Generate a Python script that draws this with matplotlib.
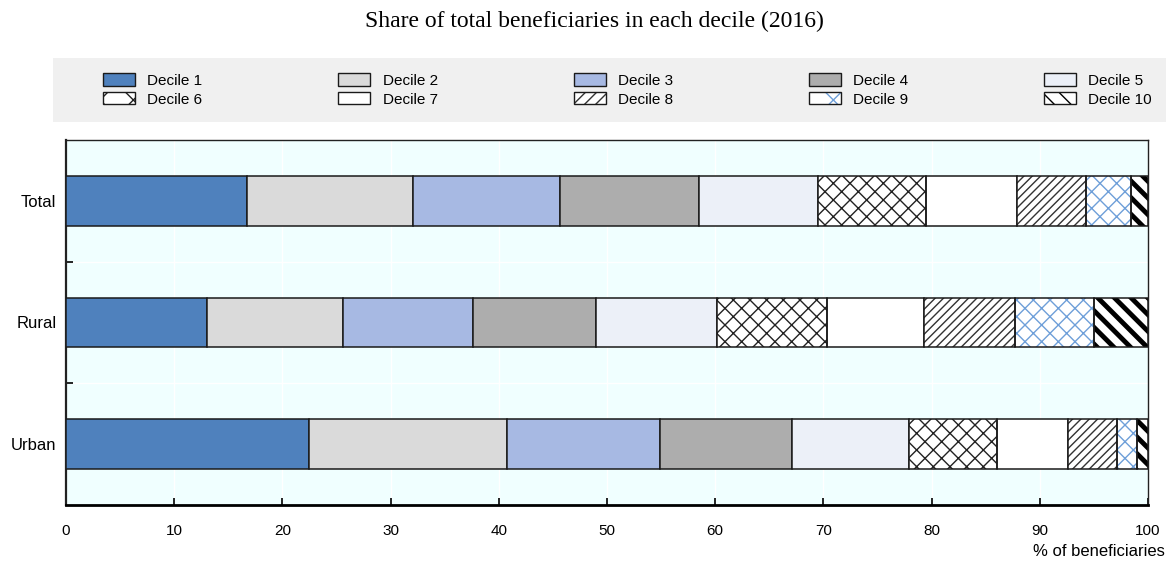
import matplotlib
matplotlib.use("Agg")
import matplotlib.pyplot as plt
from matplotlib.patches import Patch, Rectangle
from matplotlib.legend_handler import HandlerTuple
import numpy as np

categories = ["Total", "Rural", "Urban"]
decile_labels = ["Decile 1", "Decile 2", "Decile 3", "Decile 4", "Decile 5",
                 "Decile 6", "Decile 7", "Decile 8", "Decile 9", "Decile 10"]
total = [16.7, 15.4, 13.6, 12.8, 11.0, 10.0, 8.4, 6.4, 4.1, 1.6]
rural = [13.0, 12.6, 12.0, 11.4, 11.2, 10.1, 9.0, 8.4, 7.3, 5.0]
urban = [22.5, 18.3, 14.1, 12.2, 10.8, 8.1, 6.6, 4.5, 1.9, 1.0]
xticks = [0, 10, 20, 30, 40, 50, 60, 70, 80, 90, 100]

title = "Share of total beneficiaries in each decile (2016)"
xlabel = "% of beneficiaries"

# style per decile: (facecolor, hatch, hatchcolor, hatch linewidth, legend hatch)
styles = [
    ("#4F81BD", None, None, 1.0, None),
    ("#DADADA", None, None, 1.0, None),
    ("#A7B9E3", None, None, 1.0, None),
    ("#ADADAD", None, None, 1.0, None),
    ("#ECF0F8", None, None, 1.0, None),
    ("white", "xx", "#222222", 1.0, "x"),
    ("white", None, None, 1.0, None),
    ("white", "////", "#333333", 1.0, "///"),
    ("white", "xx", "#6E9FD9", 1.0, "x"),
    ("white", "\\\\", "black", 3.5, "\\\\"),
]

plt.rcParams["font.family"] = ["Liberation Sans", "DejaVu Sans"]

fig = plt.figure(figsize=(11.66, 5.62), dpi=100)
ax = fig.add_axes([66 / 1166, 1 - 505 / 562, (1148 - 66) / 1166, (505 - 140) / 562])
ax.set_facecolor("#F0FFFF")

data = np.array([total, rural, urban])
ypos = np.arange(len(categories))
left = np.zeros(len(categories))
bar_h = 0.41
handles = []
for i, lab in enumerate(decile_labels):
    fc, hatch, hc, hlw, lh = styles[i]
    vals = data[:, i]
    if hatch is None:
        ax.barh(ypos, vals, left=left, height=bar_h, color=fc,
                edgecolor="#1a1a1a", linewidth=1.1, zorder=3)
        h = Patch(facecolor=fc, edgecolor="#1a1a1a", linewidth=1.0)
    else:
        with plt.rc_context({"hatch.linewidth": hlw}):
            hb = ax.barh(ypos, vals, left=left, height=bar_h, color=fc,
                         edgecolor=hc, linewidth=0, hatch=hatch, zorder=3)
            ax.barh(ypos, vals, left=left, height=bar_h, fill=False,
                    edgecolor="#1a1a1a", linewidth=1.1, zorder=4)
            hp = Patch(facecolor=fc, edgecolor=hc, linewidth=0, hatch=lh)
            ep = Patch(fill=False, edgecolor="#1a1a1a", linewidth=1.0)
        for p in list(hb) + [hp]:
            if hasattr(p, "set_hatch_linewidth"):
                p.set_hatch_linewidth(hlw)
        h = (hp, ep)
    handles.append(h)
    left = left + vals

ax.set_xlim(0, 100)
ax.set_ylim(2.5, -0.5)
ax.set_yticks(ypos)
ax.set_yticklabels(categories, fontsize=12)
ax.set_yticks([0.5, 1.5], minor=True)
ax.tick_params(axis="y", which="major", length=0, pad=7)
ax.tick_params(axis="y", which="minor", length=5, direction="in", width=1.2)
ax.set_xticks(xticks)
ax.set_xticklabels([str(t) for t in xticks], fontsize=11)
ax.tick_params(axis="x", direction="in", length=5, width=1.2, pad=14)
ax.grid(True, axis="x", color="white", linewidth=1.0, zorder=0)
ax.grid(True, axis="y", which="minor", color="white", linewidth=1.0, zorder=0)
ax.set_axisbelow(True)
for s in ["top", "right", "left"]:
    ax.spines[s].set_linewidth(1.0)
    ax.spines[s].set_color("#222222")
ax.spines["left"].set_linewidth(1.6)
ax.spines["bottom"].set_linewidth(2.0)
ax.spines["bottom"].set_color("black")

fig.text(1165 / 1166, 1 - 551 / 562, xlabel, ha="right", va="center", fontsize=12)
fig.text(594 / 1166, 1 - 21 / 562, title, ha="center", va="center",
         fontsize=17, family=["Liberation Serif", "DejaVu Serif"])

# legend background band
fig.patches.append(Rectangle((53 / 1166, 1 - 122 / 562), (1166 - 53) / 1166, 64 / 562,
                             transform=fig.transFigure, facecolor="#F0F0F0",
                             edgecolor="none", zorder=0))

order = [0, 5, 1, 6, 2, 7, 3, 8, 4, 9]
leg = fig.legend([handles[k] for k in order], [decile_labels[k] for k in order],
                 ncol=5, loc="center",
                 bbox_to_anchor=(103 / 1166, 1 - 120 / 562, (1152 - 103) / 1166, 60 / 562),
                 mode="expand", frameon=False, fontsize=11,
                 handlelength=2.1, handleheight=0.85, handletextpad=0.8,
                 labelspacing=0.3, borderaxespad=0, borderpad=0,
                 handler_map={tuple: HandlerTuple(ndivide=1, pad=0)})

fig.savefig("out.png", dpi=100)
